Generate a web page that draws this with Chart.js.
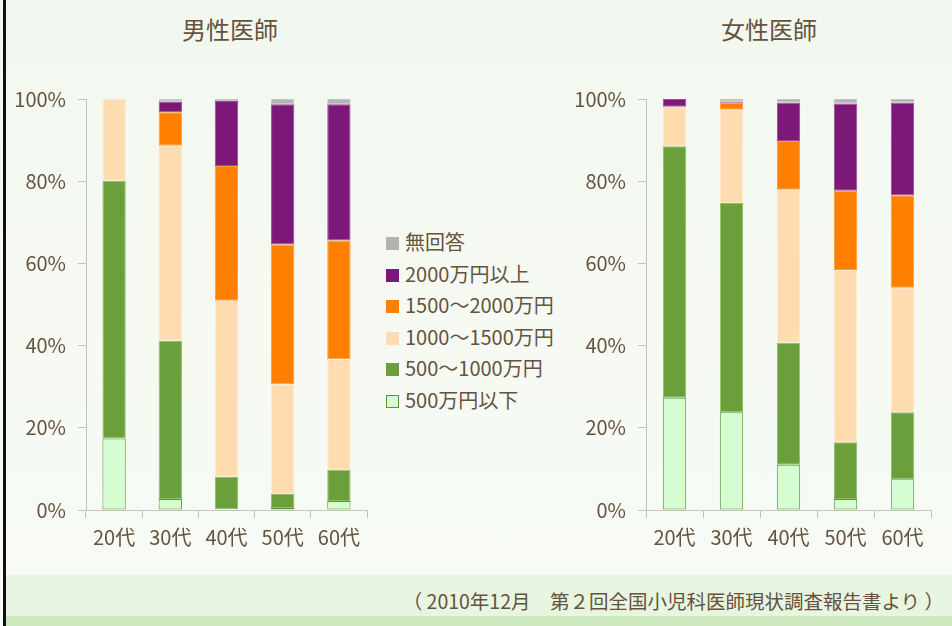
<!DOCTYPE html>
<html>
<head>
<meta charset="utf-8">
<script src="https://cdn.jsdelivr.net/npm/chart.js@4.4.1/dist/chart.umd.min.js"></script>
<style>
  body { margin: 0; }
  #page {
    position: relative; width: 952px; height: 626px; overflow: hidden;
    background: linear-gradient(#f3f8ef, #f8fbf6);
    font-family: "Noto Sans CJK JP", sans-serif; color: #65523f;
  }
  #edge { position: absolute; left: 3px; top: 0; width: 3px; height: 626px; background: #111; }
  .title { position: absolute; top: 11px; font-size: 24px; width: 200px; text-align: center; }
  #legend { position: absolute; left: 386px; top: 229px; font-size: 20px; }
  #legend div { height: 31.5px; line-height: 25px; white-space: nowrap; }
  #legend span { display: inline-block; width: 13px; height: 13px; margin-right: 6px; vertical-align: 0px; box-sizing: border-box; }
  #band1 { position: absolute; left: 6px; top: 575px; width: 946px; height: 41px; background: #e8f5e0; }
  #band2 { position: absolute; left: 6px; top: 616px; width: 946px; height: 10px; background: #cfe9bf; }
  #note { position: absolute; right: 8px; top: 586px; font-size: 19.5px; white-space: nowrap; }
  canvas { position: absolute; top: 0; }
</style>
</head>
<body>
<div id="page">
  <div id="edge"></div>
  <div class="title" style="left:130px">男性医師</div>
  <div class="title" style="left:669px">女性医師</div>
  <div style="position:absolute;left:0;top:0;width:380px;height:570px"><canvas id="male"></canvas></div>
  <div style="position:absolute;left:560px;top:0;width:392px;height:570px"><canvas id="female"></canvas></div>
  <div id="legend"></div>
  <div id="band1"></div>
  <div id="band2"></div>
  <div id="note">（ 2010年12月　第２回全国小児科医師現状調査報告書より ）</div>
</div>
<script>
const ages = ['20代', '30代', '40代', '50代', '60代'];
const groups = ['500万円以下', '500～1000万円', '1000～1500万円', '1500～2000万円', '2000万円以上', '無回答'];
const colors = ['#d6fcd2', '#6a9f3c', '#ffdcb0', '#ff7f00', '#7b1878', '#b3b3b3'];
const borders = ['#5e9438', '#8cbf66', '#ffe8cc', '#ff9a3c', '#9a4a98', '#c4c4c4'];

// male, per income group, by age
const male500 = [17.4, 2.7, 0.2, 0.5, 2.2];
const male1000 = [62.7, 38.5, 7.9, 3.4, 7.6];
const male1500 = [19.9, 47.4, 42.8, 26.7, 26.9];
const male2000 = [0, 8.2, 32.8, 34.0, 28.9];
const maleOver = [0, 2.6, 15.8, 34.1, 33.1];
const maleNone = [0, 0.6, 0.5, 1.3, 1.3];

// female
const female500 = [27.3, 23.8, 11.0, 2.7, 7.5];
const female1000 = [61.2, 50.9, 29.7, 13.8, 16.3];
const female1500 = [9.6, 22.7, 37.2, 41.9, 30.3];
const female2000 = [0, 1.7, 11.9, 19.3, 22.5];
const femaleOver = [1.9, 0.3, 9.3, 21.2, 22.5];
const femaleNone = [0, 0.6, 0.9, 1.1, 0.9];

const yTicks = [0, 20, 40, 60, 80, 100];

const txt = '#65523f';
const axisCol = '#c9c2ba';
const font = { family: '"Noto Sans CJK JP", sans-serif', size: 20 };

function makeChart(id, series, rightPad, barPct) {
  const ctx = document.getElementById(id).getContext('2d');
  new Chart(ctx, {
    type: 'bar',
    data: {
      labels: ages,
      datasets: series.map((vals, i) => ({
        label: groups[i],
        data: vals,
        backgroundColor: colors[i],
        borderColor: borders[i],
        borderWidth: 1,
        borderSkipped: false,
        categoryPercentage: 1,
        barPercentage: barPct
      }))
    },
    options: {
      responsive: true,
      maintainAspectRatio: false,
      animation: false,
      layout: { padding: { left: 0, right: rightPad, top: 99, bottom: 0 } },
      plugins: { legend: { display: false }, tooltip: { enabled: false } },
      scales: {
        x: {
          stacked: true,
          afterFit: s => { s.height = 60; },
          grid: { drawOnChartArea: false, tickLength: 8, color: axisCol },
          border: { color: axisCol },
          ticks: { color: txt, font: font, padding: 7 }
        },
        y: {
          stacked: true,
          min: 0, max: 100,
          afterFit: s => { s.width = 86; },
          afterBuildTicks: s => { s.ticks = yTicks.map(v => ({ value: v })); },
          grid: { drawOnChartArea: false, tickLength: 8, color: axisCol },
          border: { color: axisCol },
          ticks: { color: txt, font: font, padding: 12, callback: v => v + '%' }
        }
      }
    }
  });
}

makeChart('male', [male500, male1000, male1500, male2000, maleOver, maleNone], 13, 0.415);
makeChart('female', [female500, female1000, female1500, female2000, femaleOver, femaleNone], 21, 0.41);

// legend, top row is the top of the stack
const legend = document.getElementById('legend');
for (let i = groups.length - 1; i >= 0; i--) {
  const row = document.createElement('div');
  const sw = document.createElement('span');
  sw.style.background = colors[i];
  if (i === 0) sw.style.border = '1px solid #5e9438';
  row.appendChild(sw);
  row.appendChild(document.createTextNode(groups[i]));
  legend.appendChild(row);
}
</script>
</body>
</html>
